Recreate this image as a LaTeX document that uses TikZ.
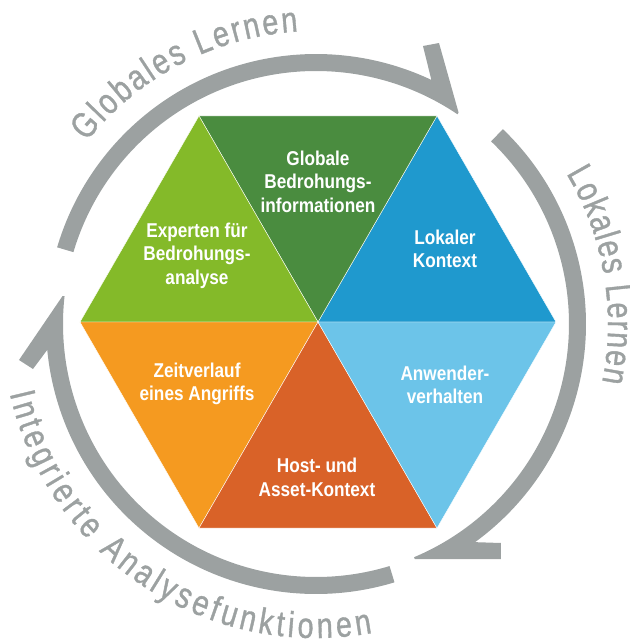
\documentclass[tikz,border=0pt]{standalone}
\usepackage{fontspec}
\usetikzlibrary{decorations.text}
\setmainfont{Liberation Sans}
\newfontfamily\segfamily{Liberation Sans}[FakeStretch=0.86]
\newfontfamily\ringfamily{Liberation Sans}[FakeStretch=0.8, FakeBold=1]
\definecolor{globgreen}{HTML}{4A8C3F}
\definecolor{ctxblue}{HTML}{1F99CE}
\definecolor{userblue}{HTML}{6CC4E9}
\definecolor{hostred}{HTML}{D96228}
\definecolor{timeorange}{HTML}{F59A20}
\definecolor{expgreen}{HTML}{84BA29}
\definecolor{ringgray}{HTML}{9CA1A1}
\newcommand\segfont{\segfamily\bfseries\fontsize{20}{23.5}\selectfont}
\newcommand\ringfont{\ringfamily\fontsize{36}{36}\selectfont}

\begin{document}
\begin{tikzpicture}[x=1pt, y=1pt,
    seglabel/.style={text=white, align=center, font=\segfont, inner sep=0pt},
    ringtext/.style={decorate, decoration={text along path, text align={fit to path},
        text color=ringgray, text={|\ringfont|#1}}}]
    \useasboundingbox (-318,-319) rectangle (312,322);
    % Hexagon segments
    \foreach \a/\c in {0/ctxblue, 60/globgreen, 120/expgreen, 180/timeorange, 240/hostred, 300/userblue}
        \filldraw[fill=\c, draw=white, line width=0.4pt] (0,0) -- (\a:238) -- (\a+60:238) -- cycle;
    % Segment labels
    \node[seglabel] (glob) at (0,140.5) {Globale\\Bedrohungs-\\informationen};
    \node[seglabel] (lokal) at (127,73) {Lokaler\\Kontext};
    \node[seglabel] (experten) at (-121,66.5) {Experten für\\Bedrohungs-\\analyse};
    \node[seglabel] (zeit) at (-121,-62) {Zeitverlauf\\eines Angriffs};
    \node[seglabel] (host) at (-1,-155.5) {Host- und\\Asset-Kontext};
    \node[seglabel] (anwender) at (127,-63) {Anwender-\\verhalten};
    % Ring arrows with half barbs
    \begin{scope}[shift={(-2,-2)}]
        \fill[ringgray] (163.5:270) arc[start angle=163.5, end angle=64.7, radius=270]
            -- (107,278) -- (123,281) -- (56:255) -- (56:253)
            arc[start angle=56, end angle=163.5, radius=253] -- cycle;
        \fill[ringgray] (46.2:270) arc[start angle=46.2, end angle=-53.9, radius=270]
            -- (185,-219) -- (185,-235) -- (-67.2:255) -- (-67.2:253)
            arc[start angle=-67.2, end angle=46.2, radius=253] -- cycle;
        \fill[ringgray] (-73.1:270) arc[start angle=-73.1, end angle=-174.5, radius=270]
            -- (-283,-45) -- (-297,-36) -- (-186.3:255) -- (-186.3:253)
            arc[start angle=-186.3, end angle=-73.1, radius=253] -- cycle;
        % Ring captions
        \path[ringtext=Globales Lernen] (141.5:293) arc[start angle=141.5, end angle=93.5, radius=293];
        \path[ringtext=Lokales Lernen] (31:292) arc[start angle=31, end angle=-11.5, radius=292];
        \path[ringtext=Integrierte Analysefunktionen] (192.8:314) arc[start angle=192.8, end angle=280.3, radius=314];
    \end{scope}
\end{tikzpicture}
\end{document}
